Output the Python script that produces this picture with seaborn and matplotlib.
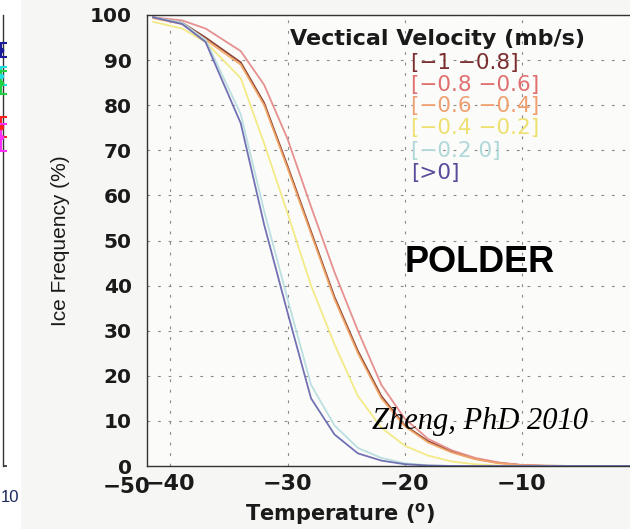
import numpy as np
import pandas as pd
import matplotlib
matplotlib.use("Agg")
import matplotlib.pyplot as plt
import seaborn as sns
from matplotlib.patches import Rectangle

sns.set_theme(style="white")
plt.rcParams['font.family'] = ['Liberation Sans', 'DejaVu Sans']
plt.rcParams['mathtext.fontset'] = 'custom'
plt.rcParams['mathtext.rm'] = 'DejaVu Sans:bold'

# ---------------- data ----------------
temperature = [-41.5, -39, -37, -34, -32, -30, -28, -26, -24, -22, -20, -18, -16, -14, -12, -10, -8, -5, 0]

vv_m1_m08 = [99.5, 98.3, 95.0, 89.5, 80.5, 66.5, 52.0, 37.5, 25.5, 15.5, 9.0, 5.5, 3.2, 1.6, 0.7, 0.2, 0.05, 0, 0]
vv_m08_m06 = [99.5, 98.8, 97.0, 92.0, 84.5, 72.5, 57.5, 43.0, 30.0, 18.0, 10.5, 6.0, 3.5, 1.8, 0.8, 0.2, 0.05, 0, 0]
vv_m06_m04 = [99.3, 98.0, 94.5, 89.0, 80.0, 66.0, 51.5, 37.0, 25.0, 15.0, 8.8, 5.2, 3.0, 1.5, 0.6, 0.15, 0.05, 0, 0]
vv_m04_m02 = [98.5, 97.0, 94.0, 86.0, 71.5, 56.0, 40.0, 27.0, 15.5, 8.5, 4.5, 2.3, 1.0, 0.4, 0.1, 0, 0, 0, 0]
vv_m02_0 = [99.5, 98.3, 94.5, 78.0, 56.5, 37.0, 18.0, 9.0, 4.0, 1.8, 0.6, 0.15, 0, 0, 0, 0, 0, 0, 0]
vv_pos = [99.5, 98.0, 94.0, 76.0, 53.5, 34.0, 15.0, 7.0, 2.8, 1.2, 0.4, 0.1, 0, 0, 0, 0, 0, 0, 0]

categories = ["[\u22121 \u22120.8]", "[\u22120.8 \u22120.6]", "[\u22120.6 \u22120.4]",
              "[\u22120.4 \u22120.2]", "[\u22120.2 0]", "[>0]"]
series = [vv_m1_m08, vv_m08_m06, vv_m06_m04, vv_m04_m02, vv_m02_0, vv_pos]
line_colors = ["#8a3a2a", "#e58a8a", "#f2a868", "#f3ea80", "#b8dede", "#6a6ab0"]
text_colors = ["#7a2e2e", "#e07070", "#f0a070", "#eee070", "#b0d8d8", "#5a4a9a"]

x_ticks = [-40, -30, -20, -10]
x_ticklabels = ["\u221240", "\u221230", "\u221220", "\u221210"]
y_ticks = [0, 10, 20, 30, 40, 50, 60, 70, 80, 90, 100]

# left fragment (neighbouring panel) error bars
frag_y = [92.2, 86.5, 85.0, 75.2, 72.9]
frag_err = [1.6, 2.0, 2.6, 2.2, 3.0]
frag_colors = ["#1a1a9a", "#20e0e0", "#20d040", "#ff2020", "#ff30ff"]

rows = []
for cat, vals in zip(categories, series):
    for t, v in zip(temperature, vals):
        rows.append({"T": t, "freq": v, "vv": cat})
df = pd.DataFrame(rows)

BOLD = {"family": "DejaVu Sans", "weight": "bold"}

# ---------------- figure ----------------
W, H = 630, 529
fig = plt.figure(figsize=(W / 100, H / 100), dpi=100, facecolor="#f6f6f4")
fig.patches.append(Rectangle((0, 0), 20 / W, 1, transform=fig.transFigure,
                             color="white", zorder=-5))

# left fragment axes
axl = fig.add_axes([-60 / W, (H - 466) / H, 63 / W, 451 / H])
axl.set_facecolor("none")
for s in ["top", "left", "bottom"]:
    axl.spines[s].set_visible(False)
axl.spines["right"].set_color("#333333")
axl.spines["right"].set_linewidth(1.0)
axl.set_xlim(0, 10)
axl.set_ylim(0, 100)
for yv, ev, c in zip(frag_y, frag_err, frag_colors):
    axl.errorbar([9.7], [yv], yerr=[ev], fmt="o", ms=3, color=c, capsize=4,
                 elinewidth=1.5, capthick=1.5, clip_on=False, zorder=5)
axl.set_yticks([0])
axl.set_yticklabels([""])
axl.tick_params(axis="y", direction="out", length=3, right=True, left=False,
                color="#333333")
axl.set_xticks([])
fig.text(1 / W, 1 - 497 / H, "10", fontsize=12, color="#1a2a5a",
         ha="left", va="center")

# main axes
ax = fig.add_axes([147 / W, (H - 466) / H, (W - 147) / W + 0.02, 451 / H])
ax.set_facecolor("#fbfbfa")
palette = dict(zip(categories, line_colors))
sns.lineplot(data=df, x="T", y="freq", hue="vv", palette=palette,
             legend=False, ax=ax, linewidth=1.3, alpha=0.95)

ax.set_xlim(-42, 0.3)
ax.set_ylim(0, 100)
ax.set_xticks(x_ticks)
ax.set_xticklabels(x_ticklabels)
ax.set_yticks(y_ticks)
ax.set_axisbelow(True)
ax.xaxis.grid(True, linestyle=(0, (2.5, 7)), color="#8a8a8a", linewidth=0.8)
ax.yaxis.grid(True, linestyle=(0, (2.5, 7)), color="#8a8a8a", linewidth=0.8)
ax.tick_params(axis="both", direction="in", length=4, color="#333333")
ax.tick_params(axis="y", pad=11)
ax.tick_params(axis="x", pad=6)
for lab in ax.get_yticklabels():
    lab.set_fontproperties(BOLD)
    lab.set_fontsize(14.5)
    lab.set_color("#1a1a1a")
for lab in ax.get_xticklabels():
    lab.set_fontproperties(BOLD)
    lab.set_fontsize(16)
    lab.set_color("#1a1a1a")

for s in ["left", "top", "bottom"]:
    ax.spines[s].set_color("#333333")
    ax.spines[s].set_linewidth(1.0)
ax.spines["right"].set_visible(False)

fig.text(150 / W, 1 - 487 / H, "\u221250", fontsize=15.5, color="#1a1a1a",
         ha="right", va="center", **BOLD)

ax.set_xlabel("Temperature ($^{\\mathrm{o}}$)", fontsize=15, color="#1a1a1a",
              **BOLD)
ax.xaxis.set_label_coords((340 - 147) / (W - 147 + 12.6), -(514 - 466) / 451)
ax.xaxis.label.set_va("center")
ax.set_ylabel("Ice Frequency (%)", fontsize=15, color="#1a1a1a")
ax.yaxis.set_label_coords(-(147 - 70) / (W - 147 + 12.6), 0.5)

# legend as coloured text
fig.text(290 / W, 1 - 39 / H, "Vectical Velocity (mb/s)", fontsize=16,
         color="#1a1a1a", ha="left", va="center", **BOLD)
legend_y = [63, 85, 106, 128, 151, 173]
for cat, col, yy in zip(categories, text_colors, legend_y):
    fig.text(411 / W, 1 - yy / H, cat, fontsize=15.5, color=col,
             family="DejaVu Sans", ha="left", va="center")

fig.text(480 / W, 1 - 262 / H, "POLDER", fontsize=26, fontweight="bold",
         color="black", ha="center", va="center")
fig.text(480 / W, 1 - 421 / H, "Zheng, PhD 2010", fontsize=22, style="italic",
         family="Liberation Serif", color="black", ha="center", va="center")

fig.savefig("out.png", dpi=100, facecolor=fig.get_facecolor())
